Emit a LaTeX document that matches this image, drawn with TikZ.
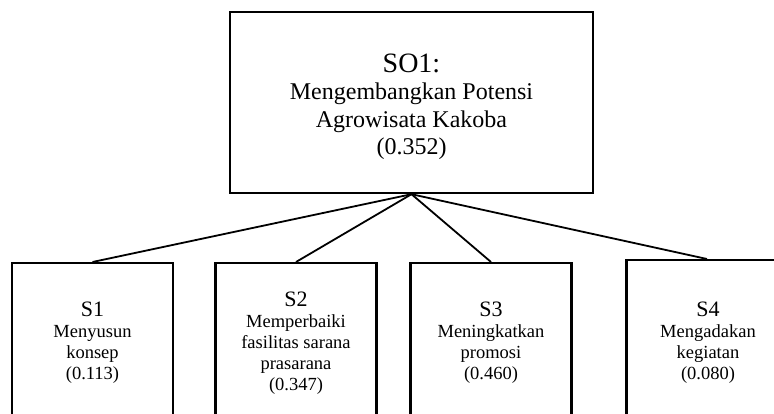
\documentclass[tikz,border=0pt]{standalone}
\usepackage{fontspec}
\setmainfont{Liberation Serif}
\begin{document}
\begin{tikzpicture}[x=1pt,y=-1pt,
  box/.style={draw, line width=2.4pt, rectangle, inner sep=0pt},
  subbox/.style={box, minimum width=161pt, anchor=north},
  link/.style={line width=1.8pt},
  toptext/.style={align=center, inner sep=0pt, font=\fontsize{24}{27.5}\selectfont},
  subtext/.style={align=center, inner sep=0pt, font=\fontsize{18.5}{21}\selectfont}]
\path[use as bounding box, clip] (0,0) rectangle (774,414);

% goal box
\node[box, minimum width=363pt, minimum height=181pt] (so1) at (411.5,102.5) {};
\node[toptext] (so1txt) at (411.5,107)
  {{\fontsize{28}{28}\selectfont SO1:}\\Mengembangkan Potensi\\Agrowisata Kakoba\\(0.352)};

% strategy boxes
\node[subbox, minimum height=170pt] (s1) at (92.5,262) {};
\node[subbox, minimum height=170pt] (s2) at (296,262) {};
\node[subbox, minimum height=170pt] (s3) at (491,262) {};
\node[subbox, minimum height=175pt] (s4) at (707,259) {};

\node[subtext] (s1txt) at (92.5,343)
  {{\fontsize{22}{22}\selectfont S1}\\Menyusun\\konsep\\(0.113)};
\node[subtext] (s2txt) at (296,343)
  {{\fontsize{22}{22}\selectfont S2}\\Memperbaiki\\fasilitas sarana\\prasarana\\(0.347)};
\node[subtext] (s3txt) at (491,343)
  {{\fontsize{22}{22}\selectfont S3}\\Meningkatkan\\promosi\\(0.460)};
\node[subtext] (s4txt) at (708,343)
  {{\fontsize{22}{22}\selectfont S4}\\Mengadakan\\kegiatan\\(0.080)};

% connectors
\foreach \s in {s1,s2,s3,s4}
  \draw[link] (so1.south) -- (\s.north);
\end{tikzpicture}
\end{document}
